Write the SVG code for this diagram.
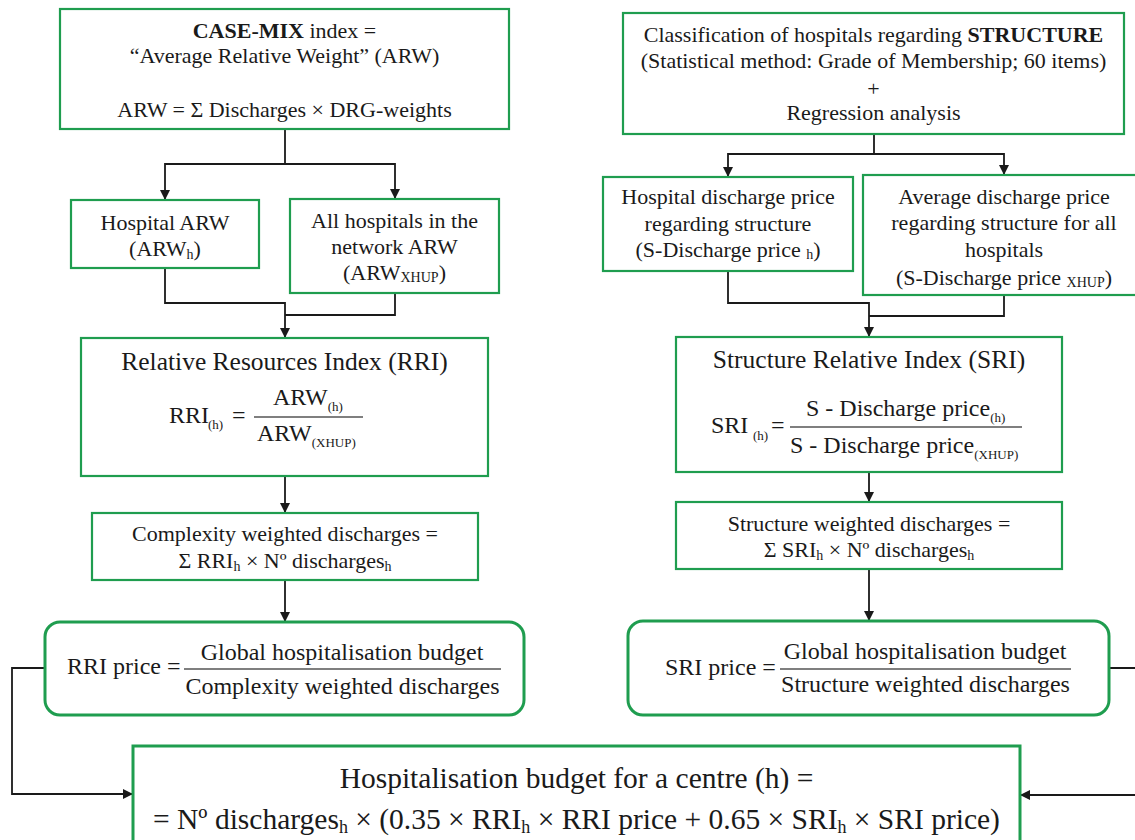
<svg xmlns="http://www.w3.org/2000/svg" width="1135" height="840" viewBox="0 0 1135 840">
<style>
text{font-family:"Liberation Serif","Times New Roman",serif;fill:#1a1a1a}
.t{font-size:22px;text-anchor:middle}
.ti{font-size:25.5px;text-anchor:middle}
.f{font-size:24px}
.fc{font-size:24px;text-anchor:middle}
.big{font-size:29.5px;text-anchor:middle}
.box{fill:#fff;stroke:#1f9d4f;stroke-width:2.2}
.rbox{fill:#fff;stroke:#1f9d4f;stroke-width:3}
.conn path{fill:none;stroke:#1a1a1a;stroke-width:1.8}
.frac{stroke:#555;stroke-width:1.4}
</style>
<defs>
<marker id="ah" markerUnits="userSpaceOnUse" markerWidth="11" markerHeight="11" refX="10" refY="5" orient="auto">
<path d="M0,0 L10,5 L0,10 z" fill="#1a1a1a"/>
</marker>
</defs>

<g class="conn">
<path d="M285,129 V164 H165 V200" marker-end="url(#ah)"/>
<path d="M285,164 H395 V199" marker-end="url(#ah)"/>
<path d="M165,268 V303 H285 V338" marker-end="url(#ah)"/>
<path d="M395,293 V315 H285"/>
<path d="M285,476 V513" marker-end="url(#ah)"/>
<path d="M285,580 V622" marker-end="url(#ah)"/>
<path d="M45,668 H12 V794 H133" marker-end="url(#ah)"/>
<path d="M874,134 V154 H728 V177" marker-end="url(#ah)"/>
<path d="M874,154 H1004 V175" marker-end="url(#ah)"/>
<path d="M728,271 V303 H869 V337" marker-end="url(#ah)"/>
<path d="M1004,295 V316 H869"/>
<path d="M869,472 V502" marker-end="url(#ah)"/>
<path d="M869,569 V621" marker-end="url(#ah)"/>
<path d="M1109,668 H1150 V795 H1020" marker-end="url(#ah)"/>
</g>

<g id="casemix">
<rect class="box" x="60" y="9" width="449" height="120"/>
<text class="t" x="284.5" y="38"><tspan font-weight="bold">CASE-MIX</tspan> index =</text>
<text class="t" x="284.5" y="63">“Average Relative Weight” (ARW)</text>
<text class="t" x="284.5" y="117">ARW = Σ Discharges × DRG-weights</text>
</g>

<g id="hospital-arw">
<rect class="box" x="71" y="200" width="188" height="68"/>
<text class="t" x="165" y="230">Hospital ARW</text>
<text class="t" x="165" y="256">(ARW<tspan font-size="14" dy="3">h</tspan><tspan dy="-3">)</tspan></text>
</g>

<g id="all-hospitals-arw">
<rect class="box" x="290" y="199" width="209" height="94"/>
<text class="t" x="394.5" y="228">All hospitals in the</text>
<text class="t" x="394.5" y="254">network ARW</text>
<text class="t" x="394.5" y="280">(ARW<tspan font-size="14" dy="2">XHUP</tspan><tspan dy="-2">)</tspan></text>
</g>

<g id="rri">
<rect class="box" x="81" y="338" width="407" height="138"/>
<text class="ti" x="284.5" y="370">Relative Resources Index (RRI)</text>
<text class="f" x="169" y="423">RRI</text>
<text x="208" y="429" font-size="13">(h)</text>
<text class="f" x="232" y="423">=</text>
<line class="frac" x1="254" y1="417" x2="363" y2="417"/>
<text class="f" x="273" y="405">ARW<tspan font-size="13" dy="6">(h)</tspan></text>
<text class="f" x="257" y="441">ARW<tspan font-size="13" dy="6">(XHUP)</tspan></text>
</g>

<g id="complexity">
<rect class="box" x="92" y="513" width="386" height="67"/>
<text class="t" x="285" y="541">Complexity weighted discharges =</text>
<text class="t" x="285" y="568">Σ RRI<tspan font-size="14" dy="3">h</tspan><tspan dy="-3"> × Nº discharges</tspan><tspan font-size="14" dy="3">h</tspan></text>
</g>

<g id="rri-price">
<rect class="rbox" x="45" y="622" width="479" height="93" rx="15"/>
<text class="f" x="67" y="674">RRI price =</text>
<text class="fc" x="342" y="660">Global hospitalisation budget</text>
<line class="frac" x1="184" y1="669" x2="501" y2="669"/>
<text class="fc" x="342.5" y="694">Complexity weighted discharges</text>
</g>

<g id="structure">
<rect class="box" x="623" y="13" width="501" height="121"/>
<text class="t" x="873.5" y="42">Classification of hospitals regarding <tspan font-weight="bold">STRUCTURE</tspan></text>
<text class="t" x="873.5" y="68">(Statistical method: Grade of Membership; 60 items)</text>
<text class="t" x="873.5" y="96">+</text>
<text class="t" x="873.5" y="120">Regression analysis</text>
</g>

<g id="hospital-discharge-price">
<rect class="box" x="603" y="177" width="250" height="94"/>
<text class="t" x="728" y="204">Hospital discharge price</text>
<text class="t" x="728" y="231">regarding structure</text>
<text class="t" x="728" y="257">(S-Discharge price <tspan font-size="14" dy="2">h</tspan><tspan dy="-2">)</tspan></text>
</g>

<g id="average-discharge-price">
<rect class="box" x="863" y="175" width="290" height="120"/>
<text class="t" x="1004" y="204">Average discharge price</text>
<text class="t" x="1004" y="230">regarding structure for all</text>
<text class="t" x="1004" y="257">hospitals</text>
<text class="t" x="1004" y="285">(S-Discharge price <tspan font-size="14" dy="2">XHUP</tspan><tspan dy="-2">)</tspan></text>
</g>

<g id="sri">
<rect class="box" x="676" y="337" width="386" height="135"/>
<text class="ti" x="869" y="368">Structure Relative Index (SRI)</text>
<text class="f" x="711" y="433">SRI</text>
<text x="753" y="440" font-size="13">(h)</text>
<text class="f" x="771" y="433">=</text>
<line class="frac" x1="790" y1="427" x2="1022" y2="427"/>
<text class="f" x="806" y="416">S - Discharge price<tspan font-size="13" dy="6">(h)</tspan></text>
<text class="f" x="790" y="453">S - Discharge price<tspan font-size="13" dy="6">(XHUP)</tspan></text>
</g>

<g id="structure-weighted">
<rect class="box" x="676" y="502" width="386" height="67"/>
<text class="t" x="869" y="531">Structure weighted discharges =</text>
<text class="t" x="869" y="557">Σ SRI<tspan font-size="14" dy="3">h</tspan><tspan dy="-3"> × Nº discharges</tspan><tspan font-size="14" dy="3">h</tspan></text>
</g>

<g id="sri-price">
<rect class="rbox" x="628" y="621" width="481" height="94" rx="15"/>
<text class="f" x="665" y="675">SRI price =</text>
<text class="fc" x="925" y="659">Global hospitalisation budget</text>
<line class="frac" x1="780" y1="669" x2="1071" y2="669"/>
<text class="fc" x="925.5" y="692">Structure weighted discharges</text>
</g>

<g id="hospitalisation-budget">
<rect class="rbox" x="133" y="746" width="887" height="120"/>
<text class="big" x="576.5" y="788">Hospitalisation budget for a centre (h) =</text>
<text class="big" x="576.5" y="829">= Nº discharges<tspan font-size="18" dy="4">h</tspan><tspan dy="-4"> × (0.35 × RRI</tspan><tspan font-size="18" dy="4">h</tspan><tspan dy="-4"> × RRI price + 0.65 × SRI</tspan><tspan font-size="18" dy="4">h</tspan><tspan dy="-4"> × SRI price)</tspan></text>
</g>
</svg>
